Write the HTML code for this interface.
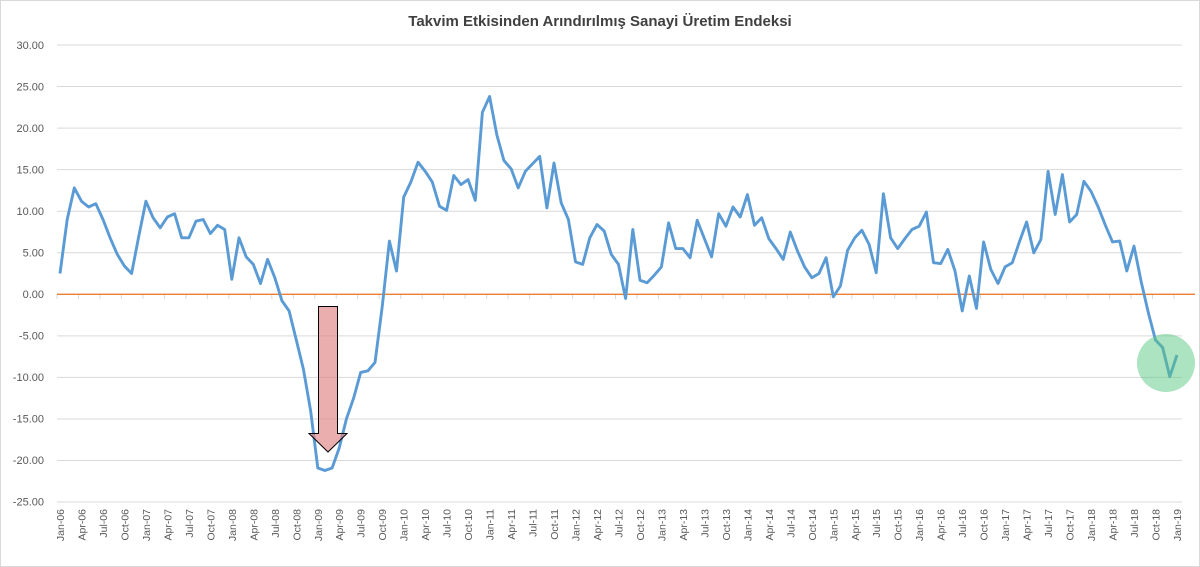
<!DOCTYPE html>
<html><head><meta charset="utf-8"><style>
html,body{margin:0;padding:0;background:#fff;}
svg{display:block;font-family:"Liberation Sans",sans-serif;}
</style></head><body>
<svg id="c" width="1200" height="567" viewBox="0 0 1200 567" xmlns="http://www.w3.org/2000/svg">
<rect x="0.5" y="0.5" width="1199" height="566" fill="#fff" stroke="#d9d9d9"/>
<text x="600" y="26" text-anchor="middle" font-size="15" font-weight="bold" fill="#404040">Takvim Etkisinden Arındırılmış Sanayi Üretim Endeksi</text>
<g stroke="#d9d9d9" stroke-width="1">
<line x1="57" x2="1182" y1="45" y2="45"/><line x1="57" x2="1182" y1="86.55" y2="86.55"/><line x1="57" x2="1182" y1="128.1" y2="128.1"/><line x1="57" x2="1182" y1="169.65" y2="169.65"/><line x1="57" x2="1182" y1="211.2" y2="211.2"/><line x1="57" x2="1182" y1="252.75" y2="252.75"/><line x1="57" x2="1182" y1="335.85" y2="335.85"/><line x1="57" x2="1182" y1="377.4" y2="377.4"/><line x1="57" x2="1182" y1="418.95" y2="418.95"/><line x1="57" x2="1182" y1="460.5" y2="460.5"/><line x1="57" x2="1182" y1="502.05" y2="502.05"/>
</g>
<g id="ticks" stroke="#d9d9d9" stroke-width="1"></g>
<line x1="57" x2="1195" y1="294.3" y2="294.3" stroke="#ed7d31" stroke-width="1.3"/>
<g font-size="11" fill="#595959" text-anchor="end">
<text x="44" y="49">30.00</text><text x="44" y="90.5">25.00</text><text x="44" y="132">20.00</text><text x="44" y="173.5">15.00</text><text x="44" y="215">10.00</text><text x="44" y="256.5">5.00</text><text x="44" y="298">0.00</text><text x="44" y="339.5">-5.00</text><text x="44" y="381">-10.00</text><text x="44" y="422.5">-15.00</text><text x="44" y="464">-20.00</text><text x="44" y="505.5">-25.00</text>
</g>
<g font-size="10.5" fill="#595959" text-anchor="end">
<text transform="translate(64,509) rotate(-90)">Jan-06</text><text transform="translate(85.5,509) rotate(-90)">Apr-06</text><text transform="translate(107,509) rotate(-90)">Jul-06</text><text transform="translate(128.4,509) rotate(-90)">Oct-06</text>
<text transform="translate(149.9,509) rotate(-90)">Jan-07</text><text transform="translate(171.4,509) rotate(-90)">Apr-07</text><text transform="translate(192.9,509) rotate(-90)">Jul-07</text><text transform="translate(214.4,509) rotate(-90)">Oct-07</text>
<text transform="translate(235.8,509) rotate(-90)">Jan-08</text><text transform="translate(257.3,509) rotate(-90)">Apr-08</text><text transform="translate(278.8,509) rotate(-90)">Jul-08</text><text transform="translate(300.3,509) rotate(-90)">Oct-08</text>
<text transform="translate(321.8,509) rotate(-90)">Jan-09</text><text transform="translate(343.2,509) rotate(-90)">Apr-09</text><text transform="translate(364.7,509) rotate(-90)">Jul-09</text><text transform="translate(386.2,509) rotate(-90)">Oct-09</text>
<text transform="translate(407.7,509) rotate(-90)">Jan-10</text><text transform="translate(429.2,509) rotate(-90)">Apr-10</text><text transform="translate(450.6,509) rotate(-90)">Jul-10</text><text transform="translate(472.1,509) rotate(-90)">Oct-10</text>
<text transform="translate(493.6,509) rotate(-90)">Jan-11</text><text transform="translate(515.1,509) rotate(-90)">Apr-11</text><text transform="translate(536.6,509) rotate(-90)">Jul-11</text><text transform="translate(558,509) rotate(-90)">Oct-11</text>
<text transform="translate(579.5,509) rotate(-90)">Jan-12</text><text transform="translate(601,509) rotate(-90)">Apr-12</text><text transform="translate(622.5,509) rotate(-90)">Jul-12</text><text transform="translate(644,509) rotate(-90)">Oct-12</text>
<text transform="translate(665.4,509) rotate(-90)">Jan-13</text><text transform="translate(686.9,509) rotate(-90)">Apr-13</text><text transform="translate(708.4,509) rotate(-90)">Jul-13</text><text transform="translate(729.9,509) rotate(-90)">Oct-13</text>
<text transform="translate(751.4,509) rotate(-90)">Jan-14</text><text transform="translate(772.8,509) rotate(-90)">Apr-14</text><text transform="translate(794.3,509) rotate(-90)">Jul-14</text><text transform="translate(815.8,509) rotate(-90)">Oct-14</text>
<text transform="translate(837.3,509) rotate(-90)">Jan-15</text><text transform="translate(858.8,509) rotate(-90)">Apr-15</text><text transform="translate(880.2,509) rotate(-90)">Jul-15</text><text transform="translate(901.7,509) rotate(-90)">Oct-15</text>
<text transform="translate(923.2,509) rotate(-90)">Jan-16</text><text transform="translate(944.7,509) rotate(-90)">Apr-16</text><text transform="translate(966.2,509) rotate(-90)">Jul-16</text><text transform="translate(987.6,509) rotate(-90)">Oct-16</text>
<text transform="translate(1009.1,509) rotate(-90)">Jan-17</text><text transform="translate(1030.6,509) rotate(-90)">Apr-17</text><text transform="translate(1052.1,509) rotate(-90)">Jul-17</text><text transform="translate(1073.6,509) rotate(-90)">Oct-17</text>
<text transform="translate(1095,509) rotate(-90)">Jan-18</text><text transform="translate(1116.5,509) rotate(-90)">Apr-18</text><text transform="translate(1138,509) rotate(-90)">Jul-18</text><text transform="translate(1159.5,509) rotate(-90)">Oct-18</text>
<text transform="translate(1181,509) rotate(-90)">Jan-19</text>
</g>
<polyline id="ln" fill="none" stroke="#5b9bd5" stroke-width="2.9" stroke-linejoin="round" points=""/>
<path d="M318.5,306.5 H337.5 V433.5 H347 L328,452 L309,433.5 H318.5 Z" fill="rgba(222,130,130,0.65)" stroke="#000" stroke-width="1"/>
<circle cx="1166" cy="363" r="29" fill="rgba(90,200,130,0.5)"/>
</svg>
<script>
var d=[2.5,9,12.8,11.2,10.5,10.9,9,6.8,4.8,3.4,2.5,7,
11.2,9.2,8,9.3,9.7,6.8,6.8,8.8,9,7.3,8.3,7.8,
1.8,6.8,4.5,3.6,1.3,4.2,2,-0.8,-2,-5.5,-9,-14,
-20.9,-21.2,-20.9,-18.5,-15,-12.5,-9.4,-9.2,-8.2,-1.5,6.4,2.8,
11.7,13.5,15.9,14.8,13.5,10.6,10.1,14.3,13.2,13.8,11.3,21.9,
23.8,19.2,16.1,15.1,12.8,14.8,15.7,16.6,10.4,15.8,11,9,
3.9,3.6,6.8,8.4,7.6,4.8,3.6,-0.5,7.8,1.7,1.4,2.3,
3.3,8.6,5.5,5.5,4.4,8.9,6.7,4.5,9.7,8.2,10.5,9.3,
12,8.3,9.2,6.7,5.5,4.2,7.5,5.2,3.3,2,2.5,4.4,
-0.3,1,5.3,6.8,7.7,6,2.6,12.1,6.8,5.5,6.7,7.8,
8.2,9.9,3.8,3.7,5.4,2.8,-2,2.2,-1.7,6.3,3,1.3,
3.3,3.8,6.3,8.7,5,6.6,14.8,9.6,14.4,8.7,9.6,13.6,
12.4,10.5,8.3,6.3,6.4,2.8,5.8,1.5,-2.2,-5.5,-6.4,-9.9,-7.3];
var p=d.map(function(v,i){return (60+i*7.16).toFixed(1)+","+(294.3-v*8.31).toFixed(1);}).join(" ");
document.getElementById("ln").setAttribute("points",p);
var t=document.getElementById("ticks"),s="";
for(var i=0;i<=52;i++){var x=(57+i*21.48).toFixed(1);s+='<line x1="'+x+'" x2="'+x+'" y1="294" y2="299"/>';}
t.innerHTML=s;
</script>
</body></html>
